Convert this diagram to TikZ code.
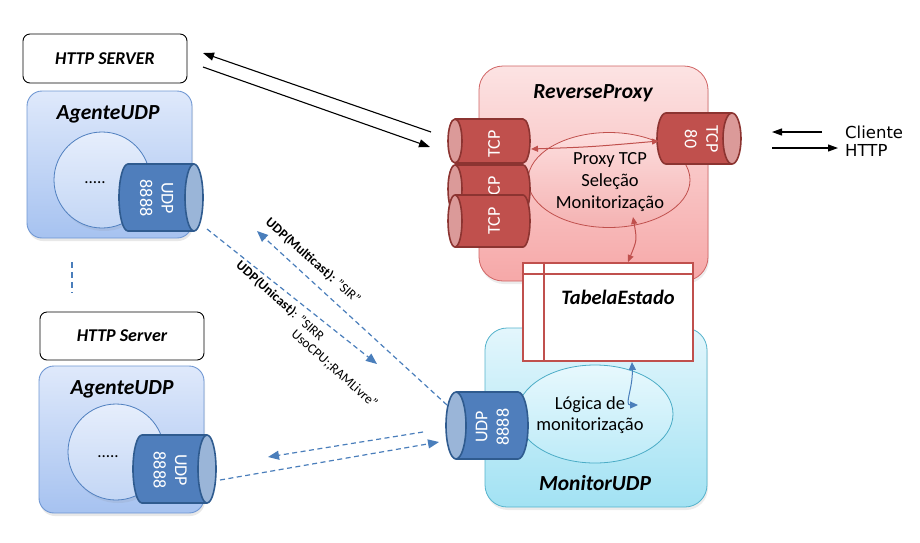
\documentclass[tikz,border=0pt]{standalone}
\usepackage{fontspec}
\setmainfont{Carlito}
\newfontfamily\djv{DejaVu Sans}
\usetikzlibrary{arrows.meta,shapes.geometric,shadows}
\definecolor{agT}{HTML}{DFE9FB}
\definecolor{agBo}{HTML}{A6C2F0}
\definecolor{agL}{HTML}{6F97D3}
\definecolor{ciT}{HTML}{E6EEFC}
\definecolor{ciBo}{HTML}{C3D6F5}
\definecolor{ciL}{HTML}{4F7FBF}
\definecolor{cbbody}{HTML}{4F7EBC}
\definecolor{cbend}{HTML}{9AB5D8}
\definecolor{cbline}{HTML}{2F5B8F}
\definecolor{crbody}{HTML}{C0504D}
\definecolor{crend}{HTML}{DB9A99}
\definecolor{crline}{HTML}{8C3431}
\definecolor{pkT}{HTML}{FCE3E3}
\definecolor{pkBo}{HTML}{F6A8A8}
\definecolor{pkL}{HTML}{D06464}
\definecolor{peT}{HTML}{FDDEDE}
\definecolor{peBo}{HTML}{F4B2B2}
\definecolor{moT}{HTML}{E3F6FC}
\definecolor{moBo}{HTML}{A2E2F3}
\definecolor{moL}{HTML}{55B3CC}
\definecolor{meT}{HTML}{E7F8FD}
\definecolor{meBo}{HTML}{BDEBF8}
\definecolor{meL}{HTML}{4BACC6}
\definecolor{dblue}{HTML}{4A7EBB}
\definecolor{tabred}{HTML}{C0504D}
\newcommand\mkcylR[6]{%
  \fill[#6body] ({#1+#5},#3) ellipse [x radius=#5pt, y radius=#4pt];
  \draw[#6line, line width=1.6pt] ({#1+#5},#3) ellipse [x radius=#5pt, y radius=#4pt];
  \fill[#6body] ({#1+#5},{#3-#4}) rectangle ({#2-#5},{#3+#4});
  \draw[#6line, line width=1.6pt] ({#1+#5},{#3-#4}) -- ({#2-#5},{#3-#4}) ({#1+#5},{#3+#4}) -- ({#2-#5},{#3+#4});
  \filldraw[fill=#6end, draw=#6line, line width=1.6pt] ({#2-#5},#3) ellipse [x radius=#5pt, y radius=#4pt];
}
\newcommand\mkcylL[6]{%
  \fill[#6body] ({#2-#5},#3) ellipse [x radius=#5pt, y radius=#4pt];
  \draw[#6line, line width=1.6pt] ({#2-#5},#3) ellipse [x radius=#5pt, y radius=#4pt];
  \fill[#6body] ({#1+#5},{#3-#4}) rectangle ({#2-#5},{#3+#4});
  \draw[#6line, line width=1.6pt] ({#1+#5},{#3-#4}) -- ({#2-#5},{#3-#4}) ({#1+#5},{#3+#4}) -- ({#2-#5},{#3+#4});
  \filldraw[fill=#6end, draw=#6line, line width=1.6pt] ({#1+#5},#3) ellipse [x radius=#5pt, y radius=#4pt];
}
\begin{document}
\begin{tikzpicture}[x=1pt,y=-1pt,
  titlef/.style={font=\fontsize{21.5}{25}\selectfont\bfseries\itshape, inner sep=0pt},
  srvf/.style={font=\fontsize{18}{21}\selectfont\bfseries\itshape},
  srvbox/.style={draw=black, rounded corners=7pt, line width=0.9pt, fill=white, inner sep=0pt},
  agbox/.style={rectangle, rounded corners=15pt, draw=agL, line width=0.9pt, top color=agT, bottom color=agBo, inner sep=0pt,
    drop shadow={opacity=0.18, shadow xshift=1pt, shadow yshift=-3pt}},
  agcirc/.style={circle, draw=ciL, line width=0.8pt, top color=ciT, bottom color=ciBo, inner sep=0pt, minimum size=96pt,
    drop shadow={opacity=0.12, shadow xshift=2pt, shadow yshift=-3pt}},
  pkbox/.style={rectangle, rounded corners=24pt, draw=pkL, line width=0.8pt, top color=pkT, bottom color=pkBo, inner sep=0pt,
    drop shadow={opacity=0.15, shadow xshift=1pt, shadow yshift=-3pt}},
  pkell/.style={ellipse, draw=crbody, line width=0.8pt, top color=peT, bottom color=peBo, inner sep=0pt},
  mobox/.style={rectangle, rounded corners=22pt, draw=moL, line width=0.8pt, top color=moT, bottom color=moBo, inner sep=0pt,
    drop shadow={opacity=0.15, shadow xshift=1pt, shadow yshift=-3pt}},
  moell/.style={ellipse, draw=meL, line width=0.8pt, top color=meT, bottom color=meBo, inner sep=0pt},
  cyltxt/.style={text=white, align=center, font=\fontsize{18}{21.5}\selectfont, inner sep=0pt},
  bodyf/.style={font=\fontsize{18.5}{22}\selectfont, align=center, inner sep=0pt},
  blk/.style={line width=1.1pt, -{Triangle[length=11pt,width=8pt]}},
  dsh/.style={dblue, line width=1.2pt, dash pattern=on 5pt off 3.5pt},
  dsharr/.style={dsh, -{Triangle[length=11pt,width=9pt]}},
  redarr/.style={crbody, line width=1pt, {Triangle[length=7pt,width=6pt]}-{Triangle[length=7pt,width=6pt]}},
  bluearr/.style={dblue, line width=1pt, {Triangle[length=8pt,width=7pt]}-{Triangle[length=8pt,width=7pt]}},
  lblf/.style={font=\fontsize{13.5}{16}\selectfont, inner sep=0pt}
]
\useasboundingbox (0,0) rectangle (920,542);

% ---------- top agent ----------
\node[srvbox, minimum width=164pt, minimum height=49pt] (srv1) at (105,58.5) {};
\node[srvf] (srv1t) at (105,59) {HTTP SERVER};
\node[agbox, minimum width=165pt, minimum height=147pt] (ag1) at (109.5,164.5) {};
\node[titlef] (ag1t) at (108,114) {AgenteUDP};
\node[agcirc] (c1) at (102,180) {};
\node[font=\fontsize{17}{20}\selectfont] (d1) at (95,183) {.....};
\mkcylR{119}{203}{197.5}{33.5}{9}{cb}
\coordinate (cyl1) at (161,197.5);
\node[cyltxt, rotate=-90] (cyl1t) at (156.5,198) {UDP\\8888};

\draw[dblue, line width=2pt, dash pattern=on 6pt off 4pt] (72,262) coordinate (v1) -- (72,293) coordinate (v2);

% ---------- bottom agent ----------
\node[srvbox, minimum width=164pt, minimum height=48pt] (srv2) at (122,336) {};
\node[srvf] (srv2t) at (122,336) {HTTP Server};
\node[agbox, minimum width=165pt, minimum height=147pt] (ag2) at (121.5,439.5) {};
\node[titlef] (ag2t) at (122,389) {AgenteUDP};
\node[agcirc] (c2) at (116,452) {};
\node[font=\fontsize{17}{20}\selectfont] (d2) at (108,457) {.....};
\mkcylR{133}{216}{469}{34}{9}{cb}
\coordinate (cyl2) at (174.5,469);
\node[cyltxt, rotate=-90] (cyl2t) at (170,470) {UDP\\8888};

% ---------- reverse proxy ----------
\node[pkbox, minimum width=229pt, minimum height=215pt] (rp) at (593.5,173.5) {};
\node[titlef] (rpt) at (593,93) {ReverseProxy};
\node[pkell, minimum width=162pt, minimum height=95pt] (pe) at (609,180) {};
\node[bodyf] (pet) at (610,182) {Proxy TCP\\Seleção\\Monitorização};
\mkcylL{448}{530}{141}{22}{7}{cr}
\node[cyltxt, rotate=90] (t1) at (494,144) {TCP};
\mkcylL{448}{530}{189}{24}{7}{cr}
\node[cyltxt, rotate=90] (t2) at (494,190) {TCP};
\mkcylL{448}{530}{221}{26}{7}{cr}
\node[cyltxt, rotate=90] (t3) at (494,221) {TCP};
\mkcylR{657}{741}{138.5}{25.5}{9}{cr}
\node[cyltxt, rotate=-90] (t80) at (701.5,139) {TCP\\80};

% ---------- monitor ----------
\node[mobox, minimum width=222pt, minimum height=179pt] (mo) at (596,417.5) {};
\node[titlef] (mot) at (595,483) {MonitorUDP};
\node[moell, minimum width=156pt, minimum height=98pt] (me) at (595,414) {};
\node[bodyf, font=\fontsize{18.5}{21}\selectfont] (met) at (590,415) {Lógica de\\monitorização};
\mkcylL{446}{528}{425.5}{33.5}{10}{cb}
\node[cyltxt, rotate=90] (cyl3t) at (492.5,427) {UDP\\8888};

% ---------- table ----------
\node[draw=tabred, line width=2.8pt, fill=white, minimum width=170pt, minimum height=98pt, inner sep=0pt] (tab) at (608,312) {};
\draw[tabred, line width=2.8pt] (tab.north west |- 0,274) -- (tab.north east |- 0,274);
\draw[tabred, line width=2.8pt] (544,0 |- tab.north) -- (544,0 |- tab.south);
\node[titlef, font=\fontsize{20.5}{24}\selectfont\bfseries\itshape] (tabt) at (618,297) {TabelaEstado};

% ---------- connectors ----------
\coordinate (a1s) at (431,132); \coordinate (a1e) at (203,53);
\coordinate (a2s) at (203,67);  \coordinate (a2e) at (430,147);
\draw[blk] (a1s) -- (a1e);
\draw[blk] (a2s) -- (a2e);

\coordinate (r1) at (531,149); \coordinate (r2) at (659,141);
\draw[redarr] (r1) .. controls (590,147) .. (r2);
\coordinate (r3) at (633,217); \coordinate (r4) at (628,262);
\draw[redarr] (r3) .. controls (637,240) .. (r4);

\coordinate (b1) at (632,362); \coordinate (b2) at (638,405);
\draw[bluearr] (b1) .. controls (633,388) and (624,405) .. (b2);

\coordinate (u1s) at (207,229); \coordinate (u1e) at (377,364);
\draw[dsharr] (u1s) -- (u1e);
\coordinate (m1s) at (447,405); \coordinate (m1e) at (257,231);
\draw[dsharr] (m1s) -- (m1e);
\coordinate (l1s) at (423,432); \coordinate (l1e) at (268,457);
\draw[dsharr] (l1s) -- (l1e);
\coordinate (l2s) at (220,480); \coordinate (l2e) at (439,442);
\draw[dsharr] (l2s) -- (l2e);

\node[lblf, rotate=-41.5] (lm) at (313,261) {\textbf{UDP(Multicast):} "SIR"};
\node[lblf, rotate=-41.5] (lu1) at (280,301) {\textbf{UDP(Unicast)}: "SIRR};
\node[lblf, rotate=-41.5] (lu2) at (334.3,369) {UsoCPU;;RAMLivre"};

% ---------- client ----------
\coordinate (c1s) at (822,132); \coordinate (c1e) at (772,132);
\coordinate (c2s) at (772,148); \coordinate (c2e) at (838,148);
\draw[line width=1.1pt, -{Triangle[length=10pt,width=7pt]}] (c1s) -- (c1e);
\draw[line width=1.1pt, -{Triangle[length=10pt,width=7pt]}] (c2s) -- (c2e);
\node[anchor=west, align=left, inner sep=0pt, font=\djv\fontsize{16.5}{18}\selectfont] (cli) at (845,141) {Cliente\\HTTP};
\end{tikzpicture}
\end{document}
